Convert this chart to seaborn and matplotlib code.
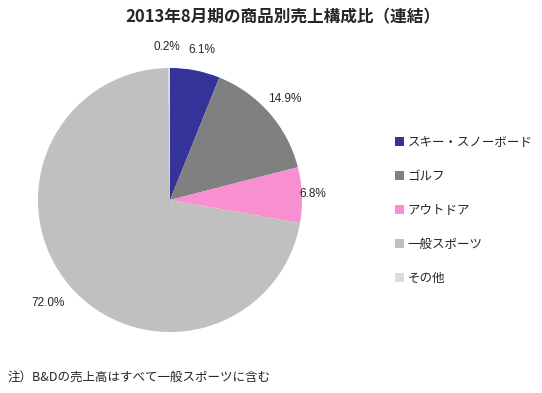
import matplotlib
matplotlib.use("Agg")
import matplotlib.pyplot as plt
import seaborn as sns

# data
categories = ["スキー・スノーボード", "ゴルフ", "アウトドア", "一般スポーツ", "その他"]
shares = [6.1, 14.9, 6.8, 72.0, 0.2]
colors = ["#333399", "#808080", "#f78fd0", "#c0c0c0", "#dcdcdc"]
title = "2013年8月期の商品別売上構成比（連結）"
note = "注）B&Dの売上高はすべて一般スポーツに含む"

sns.set_theme(style="white")
plt.rcParams["font.family"] = ["Noto Sans CJK JP", "DejaVu Sans"]

fig = plt.figure(figsize=(5.42, 3.93), dpi=100)
# pie axes: 300x300 px box centred on (170, 200) px
ax = fig.add_axes([20 / 542, 43 / 393, 300 / 542, 300 / 393])

wedges, texts, autotexts = ax.pie(
    shares, colors=colors, startangle=90, counterclock=False,
    autopct="%.1f%%", pctdistance=1.16,
    wedgeprops=dict(linewidth=0),
    textprops=dict(fontsize=8.5, family=["Liberation Sans", "DejaVu Sans"]),
)
ax.set_xlim(-1.136, 1.136)
ax.set_ylim(-1.136, 1.136)
ax.set_aspect("equal")

# small nudges like the original label layout
x, y = autotexts[3].get_position()
autotexts[3].set_position((x * 1.04, y * 1.04))
x, y = autotexts[2].get_position()
autotexts[2].set_position((x * 0.93, y))
x, y = autotexts[4].get_position()
autotexts[4].set_position((x - 0.02, y))
x, y = autotexts[0].get_position()
autotexts[0].set_position((x + 0.02, y))

fig.legend(wedges, categories, loc="upper left", bbox_to_anchor=(390 / 542, 1 - 131 / 393),
           frameon=False, fontsize=9, handlelength=0.7, handleheight=0.7,
           handletextpad=0.3, labelspacing=1.68, borderaxespad=0)

fig.text(283 / 542, 1 - 17 / 393, title, ha="center", va="center",
         fontsize=12, fontweight="bold")
fig.text(8 / 542, 1 - 377 / 393, note, ha="left", va="center", fontsize=9)

fig.savefig("out.png", dpi=100)
